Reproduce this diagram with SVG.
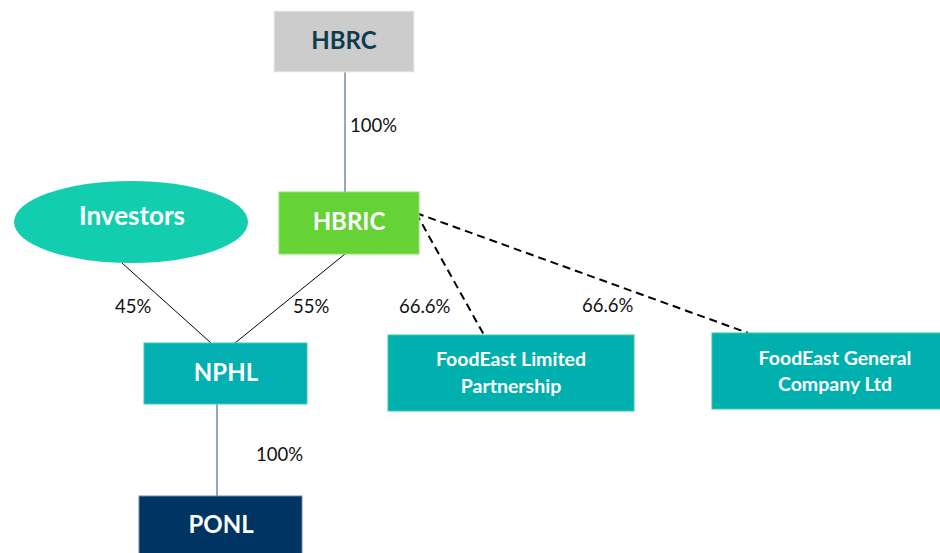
<svg xmlns="http://www.w3.org/2000/svg" width="940" height="553" viewBox="0 0 940 553">
<style>
.lbl{font-family:Lato,"Liberation Sans",sans-serif;font-weight:700;fill:#fff;text-anchor:middle}
.pct{font-family:Lato,"Liberation Sans",sans-serif;font-size:18.5px;fill:#111}
.solid{stroke:#000;stroke-width:1;fill:none}
.blue{stroke:#4f6f8f;stroke-width:1.2;fill:none}
.dash{stroke:#000;stroke-width:2;stroke-dasharray:8 5;fill:none}
</style>
<rect width="940" height="553" fill="#fff"/>
<g id="connectors">
<line class="blue" x1="345" y1="72" x2="345" y2="192"/>
<line class="solid" x1="122" y1="263" x2="211" y2="343"/>
<line class="solid" x1="345" y1="254" x2="235" y2="343"/>
<line class="blue" x1="217" y1="404" x2="217" y2="496"/>
<line class="dash" x1="416" y1="213" x2="484" y2="335"/>
<line class="dash" x1="416" y1="213" x2="748" y2="333"/>
<text class="pct" x="350" y="132">100%</text>
<text class="pct" x="115" y="313">45%</text>
<text class="pct" x="293" y="313">55%</text>
<text class="pct" x="399" y="313">66.6%</text>
<text class="pct" x="582" y="312">66.6%</text>
<text class="pct" x="256" y="461">100%</text>
</g>
<g id="HBRC">
<rect x="274" y="11" width="140" height="61" fill="#cccccc" stroke="#f0f0f0" stroke-width="1"/>
<text class="lbl" x="344" y="49" font-size="24" style="fill:#0d3b4f">HBRC</text>
</g>
<g id="HBRIC">
<rect x="279" y="192" width="140" height="62" fill="#65d236" stroke="#8ee06a" stroke-width="1"/>
<text class="lbl" x="349" y="230" font-size="24">HBRIC</text>
</g>
<g id="Investors">
<ellipse cx="131" cy="222" rx="117" ry="41" fill="#12ceaf"/>
<text class="lbl" x="132" y="225" font-size="26">Investors</text>
</g>
<g id="NPHL">
<rect x="144" y="343" width="163" height="61" fill="#02afb1" stroke="#40c8b8" stroke-width="1"/>
<text class="lbl" x="226" y="381" font-size="24">NPHL</text>
</g>
<g id="FoodEastLP">
<rect x="388" y="335" width="246" height="76" fill="#00b0ae" stroke="#3ccaa0" stroke-width="1"/>
<text class="lbl" x="511" y="366" font-size="19.5">FoodEast Limited</text>
<text class="lbl" x="511" y="393" font-size="19.5">Partnership</text>
</g>
<g id="FoodEastGC">
<rect x="712" y="333" width="246" height="76" fill="#00b0ae" stroke="#3ccaa0" stroke-width="1"/>
<text class="lbl" x="835" y="365" font-size="19.5">FoodEast General</text>
<text class="lbl" x="835" y="391" font-size="19.5">Company Ltd</text>
</g>
<g id="PONL">
<rect x="139" y="496" width="163" height="62" fill="#003462" stroke="#6a8aaa" stroke-width="1"/>
<text class="lbl" x="221" y="533" font-size="24">PONL</text>
</g>
</svg>
